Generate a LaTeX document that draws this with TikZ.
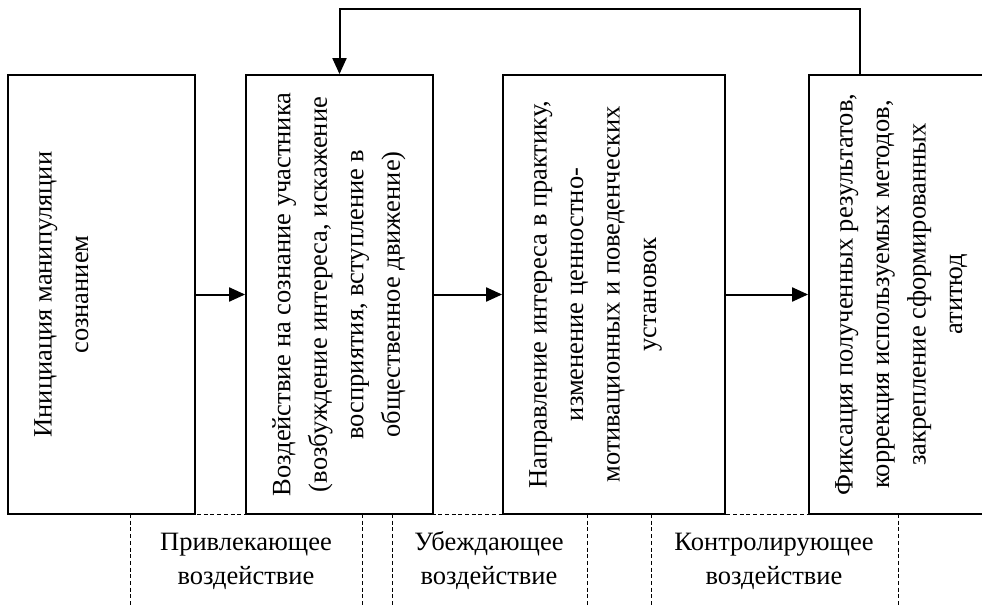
\documentclass[tikz,border=0pt]{standalone}
\usepackage{fontspec}
\setmainfont{Liberation Serif}
\usetikzlibrary{arrows.meta}
\begin{document}
\begin{tikzpicture}[x=1pt,y=-1pt,
        box/.style={draw,line width=1.8pt,inner sep=0pt,minimum height=439pt},
        txt/.style={rotate=90,anchor=north,align=center,inner sep=0pt,font=\fontsize{26.5}{36.5}\selectfont},
        lbl/.style={align=center,font=\fontsize{26.5}{34}\selectfont},
        arr/.style={line width=2pt,-{Triangle[length=16pt,width=14pt]}},
        sep/.style={line width=1pt,dash pattern=on 4pt off 2.7pt}]
        \useasboundingbox(0,0)rectangle(982,607);
        \draw[sep](130,514)--(982,514);
        \foreach \x in {130,362,392,587,651,898}
            \draw[sep](\x,514)--(\x,607);
        \node[box,minimum width=187pt](1)at(101.5,294.5){};
        \node[box,minimum width=187pt](2)at(339.5,294.5){};
        \node[box,minimum width=222pt](3)at(614,294.5){};
        \node[box,minimum width=191pt](4)at(904.5,294.5){};
        \node[txt](5)at([xshift=27pt]1.west){Инициация манипуляции\\сознанием};
        \node[txt](6)at([xshift=27pt]2.west){Воздействие на сознание участника\\(возбуждение интереса, искажение\\восприятия, вступление в\\общественное движение)};
        \node[txt](7)at([xshift=27pt]3.west){Направление интереса в практику,\\изменение ценностно-\\мотивационных и поведенческих\\установок};
        \node[txt](8)at([xshift=27pt]4.west){Фиксация полученных результатов,\\коррекция используемых методов,\\закрепление сформированных\\атитюд};
        \node[lbl](9)at(246,561){Привлекающее\\воздействие};
        \node[lbl](10)at(489,561){Убеждающее\\воздействие};
        \node[lbl](11)at(774,561){Контролирующее\\воздействие};
        \draw[arr](1)--(2);
        \draw[arr](2)--(3);
        \draw[arr](3)--(4);
        \coordinate(t)at(600,9);
        \draw[arr]([xshift=52pt]4.north west)|-(t)-|(2.north);
    \end{tikzpicture}
\end{document}
